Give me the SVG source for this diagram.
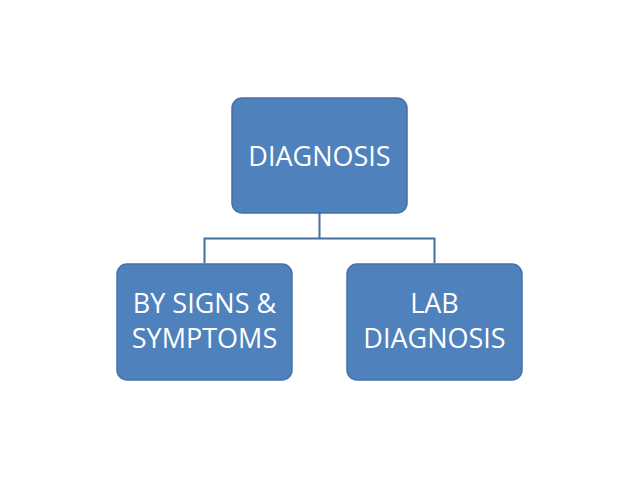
<svg xmlns="http://www.w3.org/2000/svg" width="638" height="478" viewBox="0 0 638 478">
<style>
.box{fill:#4F81BD;stroke:#4372A8;stroke-width:1.5}
.t{font-family:"Open Sans","Liberation Sans",sans-serif;font-size:27px;fill:#FFFFFF;text-anchor:middle}
.c{fill:none;stroke:#41719C;stroke-width:2}
</style>
<rect width="638" height="478" fill="#FFFFFF"/>
<g id="connectors">
<path class="c" d="M319.5 213V238.5M204.5 263V238.5H434.5V263"/>
</g>
<g id="diagnosis">
<rect class="box" x="232" y="98" width="175" height="115" rx="10"/>
<text class="t" x="319.5" y="166">DIAGNOSIS</text>
</g>
<g id="signs">
<rect class="box" x="117" y="264" width="175" height="116" rx="10"/>
<text class="t" x="204.5" y="313">BY SIGNS &amp;</text>
<text class="t" x="204.5" y="348">SYMPTOMS</text>
</g>
<g id="lab">
<rect class="box" x="347" y="264" width="175" height="116" rx="10"/>
<text class="t" x="434.5" y="313">LAB</text>
<text class="t" x="434.5" y="348">DIAGNOSIS</text>
</g>
</svg>
